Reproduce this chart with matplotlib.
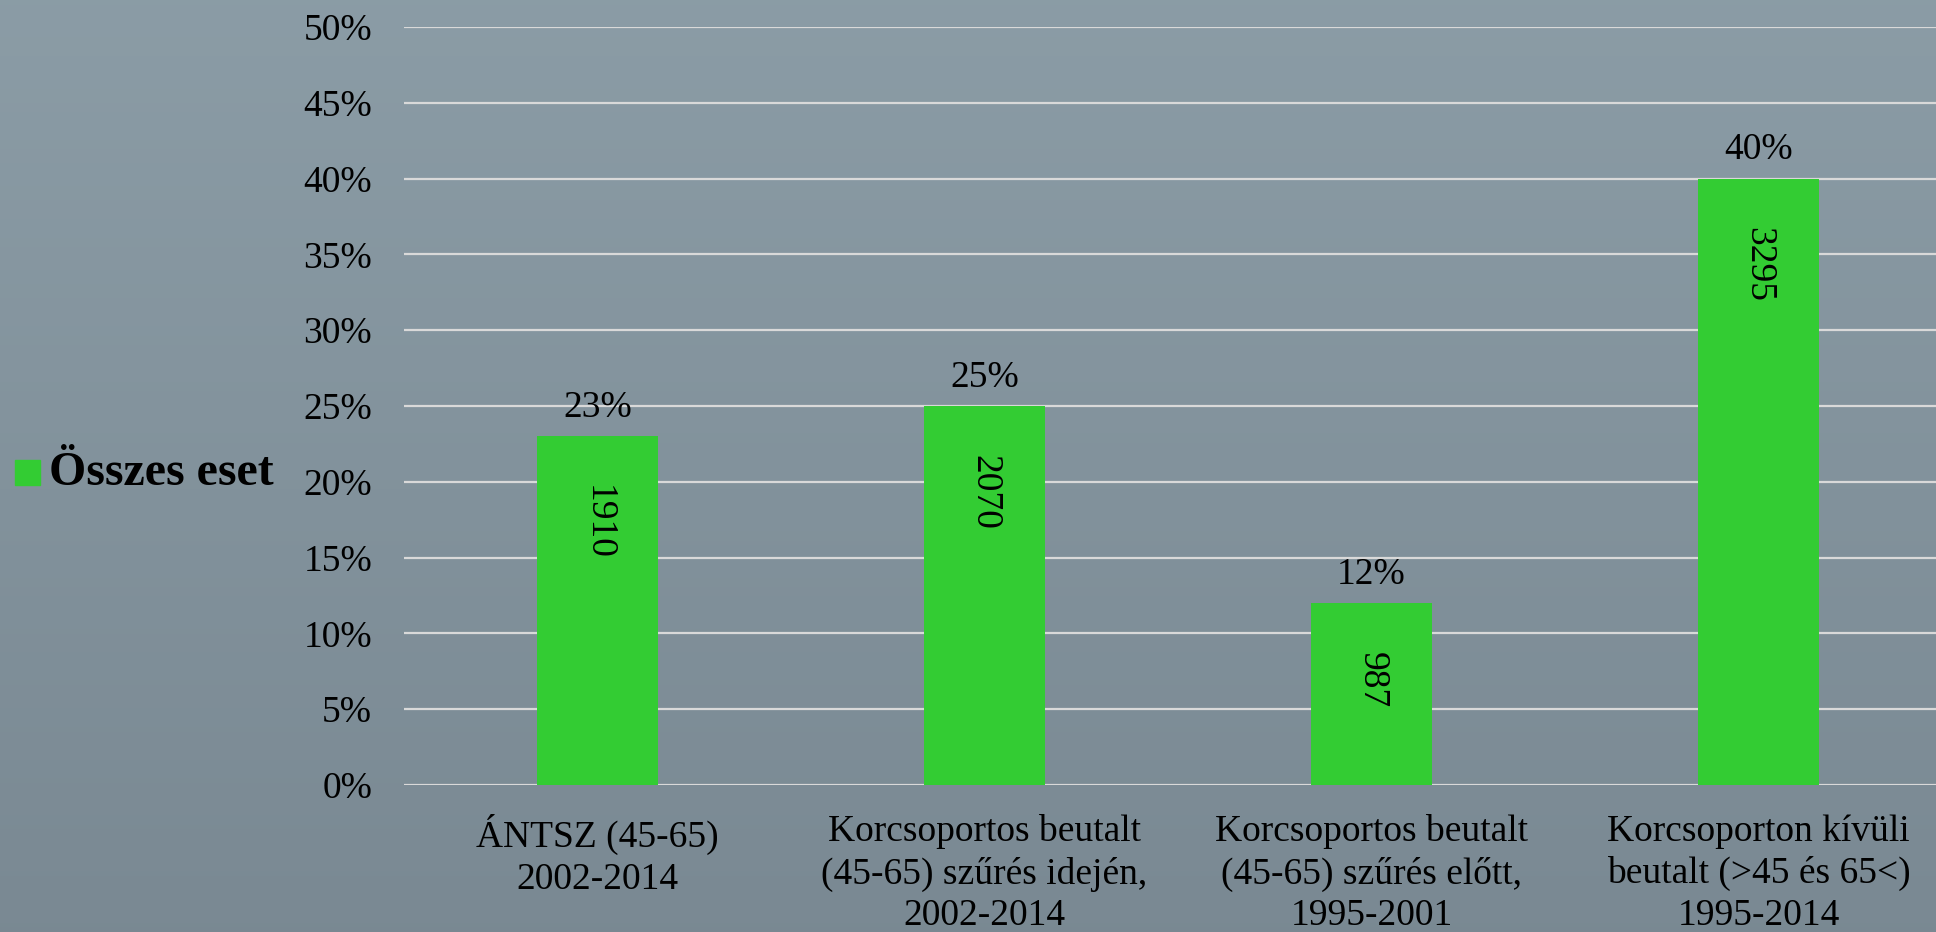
import numpy as np
import matplotlib
matplotlib.use("Agg")
from matplotlib import pyplot as plt
from matplotlib.patches import Rectangle

# chart data
categories = ["ÁNTSZ (45-65)\n2002-2014",
              "Korcsoportos beutalt\n(45-65) szűrés idején,\n2002-2014",
              "Korcsoportos beutalt\n(45-65) szűrés előtt,\n1995-2001",
              "Korcsoporton kívüli\nbeutalt (>45 és 65<)\n1995-2014"]
percents = [23, 25, 12, 40]
counts = [1910, 2070, 987, 3295]
series_name = "Összes eset"
yticks = [0, 5, 10, 15, 20, 25, 30, 35, 40, 45, 50]

plt.rcParams['font.family'] = ['Liberation Serif', 'DejaVu Serif']
fs = 27
green = '#33cc33'

fig = plt.figure(figsize=(19.36, 9.32), dpi=100)

# background gradient
bg = fig.add_axes([0, 0, 1, 1])
top = np.array([0.545, 0.612, 0.650])
bot = np.array([0.478, 0.537, 0.576])
t = np.linspace(0, 1, 200)[:, None, None]
grad = top * (1 - t) + bot * t
grad = np.repeat(grad, 2, axis=1)
bg.imshow(grad, aspect='auto', extent=[0, 1, 0, 1])
bg.axis('off')

# plot area (pixels: left 404, runs a bit past the right edge, top 27, bottom 785)
ax = fig.add_axes([404 / 1936, 1 - 785 / 932, 1548 / 1936, (785 - 27) / 932])
ax.patch.set_alpha(0)
x = np.arange(len(categories))
bars = ax.bar(x, percents, width=0.313, color=green, zorder=3)
ax.set_xlim(-0.5, len(categories) - 0.5)
ax.set_ylim(0, 50)
ax.set_yticks(yticks)
ax.set_yticklabels([str(v) + "%" for v in yticks], fontsize=fs)
ax.set_xticks(x)
ax.set_xticklabels(categories, fontsize=fs, linespacing=1.27, va='top')
ax.tick_params(axis='both', length=0, colors='black')
ax.tick_params(axis='y', pad=23)
ax.tick_params(axis='x', pad=21)
for s in ax.spines.values():
    s.set_visible(False)
ax.grid(axis='y', color='#d9d9d9', linewidth=1.6, zorder=1)

# labels
for i in range(len(categories)):
    ax.annotate(str(percents[i]) + "%", (x[i], percents[i]), xytext=(0, 14),
                textcoords='offset points', ha='center', va='baseline', fontsize=fs)
    ax.annotate(str(counts[i]), (x[i], percents[i]), xytext=(0, -35),
                textcoords='offset points', ha='center', va='top', fontsize=fs,
                rotation=-90)

# legend on the left
fig.patches.append(Rectangle((15 / 1936, 1 - 485 / 932), 25 / 1936, 25 / 932,
                             transform=fig.transFigure, color=green))
fig.text(49 / 1936, 1 - 473 / 932, series_name, fontsize=34.5, fontweight='bold',
         va='center', ha='left')

fig.savefig("out.png", dpi=100)
